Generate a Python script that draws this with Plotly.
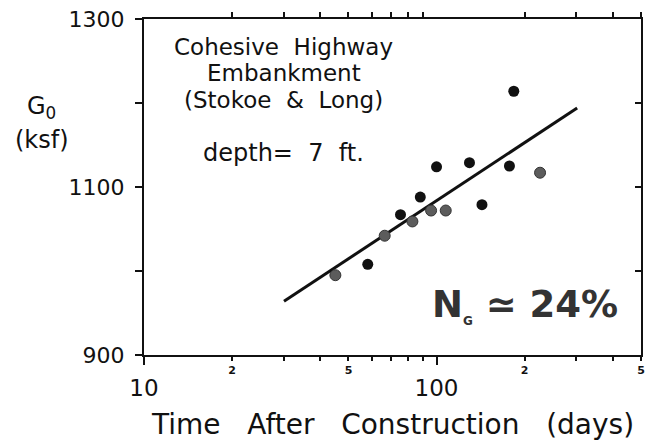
import plotly.graph_objects as go
import numpy as np

# ---- data ----
days_black = [183.7, 100.0, 129.6, 177.5, 88.0, 143.0, 75.3, 58.2]
g0_black = [1214, 1124, 1129, 1125, 1088, 1079, 1067, 1008]
days_gray = [225.9, 95.8, 107.5, 82.7, 66.5, 45.1]
g0_gray = [1117, 1072, 1072, 1059, 1042, 995]
fit_days = [30.1, 302.5]
fit_g0 = [964, 1194]

x_major_vals = [10, 100]
x_major_text = ["10", "100"]
x_minor_vals = [20, 30, 40, 50, 60, 70, 80, 90, 200, 300, 400, 500]
x_minor_text = ["2", "", "", "5", "", "", "", "", "2", "", "", "5"]
y_vals = [900, 1000, 1100, 1200, 1300]
y_text = ["900", "", "1100", "", "1300"]
y_right_vals = [1000, 1100, 1200]

FONT = "DejaVu Sans"
xr = [1, np.log10(500)]
yr = [900, 1300]

fig = go.Figure()
fig.add_trace(go.Scatter(x=fit_days, y=fit_g0, mode="lines",
                         line=dict(color="#111111", width=3), showlegend=False))
fig.add_trace(go.Scatter(x=days_gray, y=g0_gray, mode="markers",
                         marker=dict(size=11, color="#5c5c5c",
                                     line=dict(color="#333333", width=1)),
                         showlegend=False))
fig.add_trace(go.Scatter(x=days_black, y=g0_black, mode="markers",
                         marker=dict(size=11, color="#111111"),
                         showlegend=False))
# empty traces to host overlay axes
fig.add_trace(go.Scatter(x=[None], y=[None], xaxis="x2", yaxis="y2", showlegend=False))
fig.add_trace(go.Scatter(x=[None], y=[None], xaxis="x3", yaxis="y", showlegend=False))

fig.update_layout(
    width=652, height=440,
    margin=dict(l=144, r=7, t=19, b=85),
    paper_bgcolor="white", plot_bgcolor="white",
    font=dict(family=FONT, color="#111111"),
    xaxis=dict(type="log", range=xr, tickvals=x_major_vals, ticktext=x_major_text,
               ticks="outside", ticklen=8, tickwidth=2, tickcolor="#111",
               showline=True, linewidth=2, linecolor="#111",
               showgrid=False, zeroline=False,
               tickfont=dict(size=23, family=FONT), ticklabelstandoff=3),
    xaxis2=dict(type="log", range=xr, overlaying="x", side="top", anchor="y",
                tickvals=x_minor_vals, showticklabels=False,
                ticks="outside", ticklen=5, tickwidth=2, tickcolor="#111",
                showline=True, linewidth=2, linecolor="#111",
                showgrid=False, zeroline=False),
    xaxis3=dict(type="log", range=xr, overlaying="x", side="bottom", anchor="y",
                tickvals=x_minor_vals, ticktext=x_minor_text,
                ticks="outside", ticklen=5, tickwidth=2, tickcolor="#111",
                showline=False, showgrid=False, zeroline=False,
                tickfont=dict(size=11, family=FONT, weight="bold"), ticklabelstandoff=0),
    yaxis=dict(range=yr, tickvals=y_vals, ticktext=y_text,
               ticks="outside", ticklen=7, tickwidth=2, tickcolor="#111",
               showline=True, linewidth=2, linecolor="#111",
               showgrid=False, zeroline=False,
               tickfont=dict(size=22, family=FONT), ticklabelstandoff=6),
    yaxis2=dict(range=yr, overlaying="y", side="right", anchor="x",
                tickvals=y_right_vals, showticklabels=False,
                ticks="inside", ticklen=6, tickwidth=2, tickcolor="#111",
                showline=True, linewidth=2, linecolor="#111",
                showgrid=False, zeroline=False),
)

def ann(text, x, y, size, **kw):
    d = dict(text=text, x=x, y=y, xref="paper", yref="paper", showarrow=False,
             xanchor="center", yanchor="middle",
             font=dict(family=FONT, size=size, color="#111111"))
    d.update(kw)
    fig.add_annotation(**d)

ann("Cohesive  Highway", 0.281, 0.917, 23)
ann("Embankment", 0.281, 0.838, 23)
ann("(Stokoe  &  Long)", 0.281, 0.759, 23)
ann("depth=  7  ft.", 0.281, 0.601, 24)
ann("<b>N<sub><span style='font-size:12px'>G</span></sub> ≃ 24%</b>", 0.766, 0.146, 37,
    font=dict(family=FONT, size=37, color="#333333"))
ann("G<sub>0</sub>", -0.206, 0.738, 24)
ann("(ksf)", -0.206, 0.640, 24)
ann("Time   After   Construction   (days)", 0.5, -0.208, 28)

fig.write_html("out.html")
